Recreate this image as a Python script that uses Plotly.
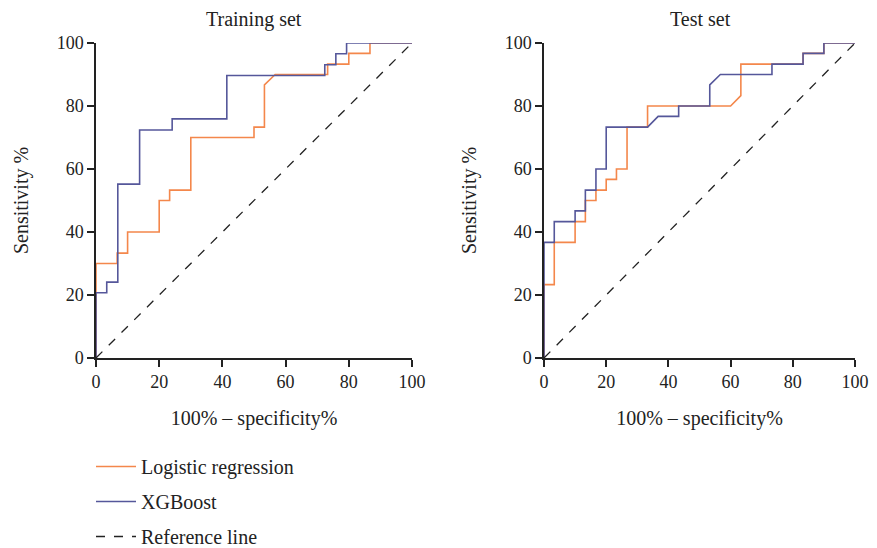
import plotly.graph_objects as go

# ---- data (percent) ----
train_lr_x = [0, 0, 6.7, 6.7, 10, 10, 20, 20, 23.3, 23.3, 30, 30, 50, 50, 53.3, 53.3, 56.7, 73.3, 73.3, 80, 80, 86.7, 86.7, 100]
train_lr_y = [0, 30, 30, 33.3, 33.3, 40, 40, 50, 50, 53.3, 53.3, 70, 70, 73.3, 73.3, 86.7, 90, 90, 93.3, 93.3, 96.7, 96.7, 100, 100]

train_xgb_x = [0, 0, 3.4, 3.4, 6.9, 6.9, 13.8, 13.8, 24.1, 24.1, 41.4, 41.4, 72.4, 72.4, 75.9, 75.9, 79.3, 79.3, 100]
train_xgb_y = [0, 20.7, 20.7, 24.1, 24.1, 55.2, 55.2, 72.4, 72.4, 75.9, 75.9, 89.7, 89.7, 93.1, 93.1, 96.6, 96.6, 100, 100]

test_lr_x = [0, 0, 3.3, 3.3, 10, 10, 13.3, 13.3, 16.7, 16.7, 20, 20, 23.3, 23.3, 26.7, 26.7, 33.3, 33.3, 60, 63.3, 63.3, 83.3, 83.3, 90, 90, 100]
test_lr_y = [0, 23.3, 23.3, 36.7, 36.7, 43.3, 43.3, 50, 50, 53.3, 53.3, 56.7, 56.7, 60, 60, 73.3, 73.3, 80, 80, 83.3, 93.3, 93.3, 96.7, 96.7, 100, 100]

test_xgb_x = [0, 0, 3.3, 3.3, 10, 10, 13.3, 13.3, 16.7, 16.7, 20, 20, 33.3, 36.7, 43.3, 43.3, 53.3, 53.3, 56.7, 73.3, 73.3, 83.3, 83.3, 90, 90, 100]
test_xgb_y = [0, 36.7, 36.7, 43.3, 43.3, 46.7, 46.7, 53.3, 53.3, 60, 60, 73.3, 73.3, 76.7, 76.7, 80, 80, 86.7, 90, 90, 93.3, 93.3, 96.7, 96.7, 100, 100]

ref_x = [0, 100]
ref_y = [0, 100]

tick_vals = [0, 20, 40, 60, 80, 100]
panel_titles = ["Training set", "Test set"]
x_title = "100% \u2013 specificity%"
y_title = "Sensitivity %"
names = ["Logistic regression", "XGBoost", "Reference line"]

ORANGE = "#F4874B"
BLUE = "#55579A"
INK = "#222222"
FONT = "Liberation Serif"

# page has an 8px body margin; size the figure to fit inside the window
OFF = 8
W, H = 877 - OFF, 548 - OFF

def px_x(p):
    return (p - OFF) / W

def px_y(p):
    return 1 - (p - OFF) / H

fig = go.Figure()

panels = [("x", "y", train_lr_x, train_lr_y, train_xgb_x, train_xgb_y),
          ("x2", "y2", test_lr_x, test_lr_y, test_xgb_x, test_xgb_y)]
for i, (xa, ya, lx, ly, gx, gy) in enumerate(panels):
    show = i == 0
    fig.add_trace(go.Scatter(x=lx, y=ly, mode="lines", name=names[0], legendgroup="a",
                             line=dict(color=ORANGE, width=1.6), showlegend=show, xaxis=xa, yaxis=ya))
    fig.add_trace(go.Scatter(x=gx, y=gy, mode="lines", name=names[1], legendgroup="b",
                             line=dict(color=BLUE, width=1.6), showlegend=show, xaxis=xa, yaxis=ya))
    fig.add_trace(go.Scatter(x=ref_x, y=ref_y, mode="lines", name=names[2], legendgroup="c",
                             line=dict(color=INK, width=1.3, dash="dash"), showlegend=show, xaxis=xa, yaxis=ya))

axis_common = dict(range=[0, 100], tickvals=tick_vals, showgrid=False, zeroline=False,
                   showline=True, linecolor=INK, linewidth=1.5, automargin=False,
                   ticks="outside", ticklen=7, tickwidth=1.5, tickcolor=INK,
                   ticklabeloverflow="allow",
                   tickfont=dict(family=FONT, size=18, color=INK))

def xt():
    return dict(text=x_title, font=dict(family=FONT, size=20, color=INK), standoff=20)

def yt():
    return dict(text=y_title, font=dict(family=FONT, size=20, color=INK), standoff=23)

ydom = [px_y(358), px_y(43)]
fig.update_layout(
    width=W, height=H,
    margin=dict(l=0, r=0, t=0, b=0, autoexpand=False),
    paper_bgcolor="white", plot_bgcolor="white",
    font=dict(family=FONT, size=18, color=INK),
    xaxis=dict(domain=[px_x(96), px_x(412)], anchor="y", title=xt(), **axis_common),
    yaxis=dict(domain=ydom, anchor="x", title=yt(), **axis_common),
    xaxis2=dict(domain=[px_x(544), px_x(855)], anchor="y2", title=xt(), **axis_common),
    yaxis2=dict(domain=ydom, anchor="x2", title=yt(), **axis_common),
    legend=dict(x=px_x(91), y=-8 / H, xanchor="left", yanchor="bottom", itemwidth=40,
                font=dict(family=FONT, size=20, color=INK), traceorder="grouped", tracegroupgap=6,
                bgcolor="rgba(0,0,0,0)"),
    showlegend=True,
)

for i, t in enumerate(panel_titles):
    cx = [254, 700][i]
    fig.add_annotation(text=t, x=px_x(cx), y=px_y(19), xref="paper", yref="paper",
                       showarrow=False, font=dict(family=FONT, size=20, color=INK),
                       xanchor="center", yanchor="middle")

fig.write_html("out.html")
